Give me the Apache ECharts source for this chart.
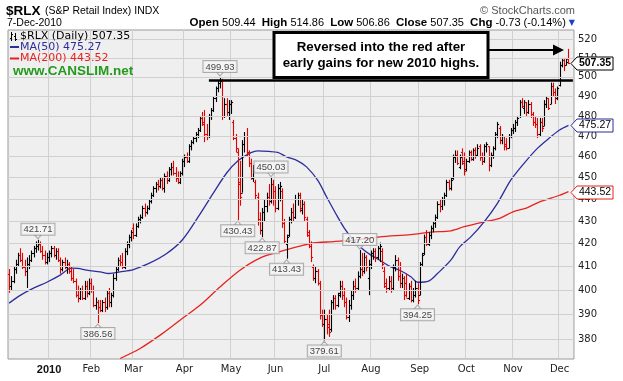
<!DOCTYPE html>
<html><head><meta charset="utf-8">
<script src="https://cdn.jsdelivr.net/npm/echarts@6/dist/echarts.min.js"></script>
<style>html,body{margin:0;padding:0;background:#fff}#c{width:623px;height:381px}</style>
</head><body><div id="c"></div>
<script>
// ---------- data ----------
const startDate = '2009-12-07';
const endDate = '2010-12-07';
const holidays = ['2009-12-25','2010-01-01','2010-01-18','2010-02-15','2010-04-02','2010-05-31','2010-07-05','2010-09-06','2010-11-25'];
const monthLabels = ['2010','Feb','Mar','Apr','May','Jun','Jul','Aug','Sep','Oct','Nov','Dec'];

const opens = [407,402,404,409,411,415,413,410,408,411,413,416,418,419,420,417,415,412,
414,416,418,415,417,413,409,412,410,411,408,405,404,398,397,400,397,402,399,
403,400,394,395,393,392,395,393,399,395,398,405,409,413,412,410,417,420,423,
427,424,428,431,432,436,434,436,439,442,445,447,446,449,445,451,449,454,455,452,450,448,452,
458,460,458,465,467,469,471,473,479,477,471,470,480,483,489,494,497,498,480,486,482,
486,477,469,462,447,443,466,470,462,457,450,448,441,430,426,434,437,441,439,447,
444,436,445,444,429,420,424,431,434,432,440,442,435,438,431,424,419,410,405,408,403,390,
386,388,386,384,395,397,394,399,402,398,395,389,394,398,402,401,406,409,408,414,405,
411,416,417,414,418,417,408,402,401,404,401,410,413,406,403,405,403,397,402,396,398,401,
398,411,416,423,420,424,427,429,432,438,437,440,442,448,445,450,460,461,455,462,458,
454,458,462,459,463,461,465,460,458,465,465,456,461,464,471,474,468,470,466,464,470,
473,474,477,480,487,484,487,482,486,481,477,476,471,477,475,486,489,486,495,492,489,
496,506,509,506.5,509.44];
const highs = [409,406,410,413,416,418,416,413,414,415,417,419,421,421.71,421,419,417,416,
417,419,419,418,418,414,413,414,413,412,410,409,405,402,401,402,404,404,405,
405,402,397,396,396,396,397,400,401,399,407,410,414,415,416,418,421,424,426,
429,429,432,433,437,438,437,440,443,446,448,449,450,450,452,453,455,457,458,455,453,453,459,
461,462,466,468,470,472,474,480,482,483,476,481,484,490,495,498,499.93,499,489,489,488,
488,478,471,464,458,468,472,474,463,459,456,449,443,434,436,440,443,447,450.03,449,
446,447,448,445,431,424,432,436,438,442,443,443,440,439,432,426,421,411,410,409,404,392,
392,390,392,396,398,398,399,404,404,401,397,396,400,404,405,408,417.2,416,416,415,413,
417,418,418,419,420.5,418,410,405,406,406,411,415,414,412,407,406,407,403,404,401,404,403,
412,416,424,426,425,428,430,433,439,440,441,443,449,449,450,461,463,463,461,464,462,
459,463,463,464,464.5,466,466,462,466,467,465,462,465,472,477,475,471,470,469,471,474,
476,478,480,488,489,488,487,488,487,482,480,479,479,479,488,490,489,497,497,494,495,
508,510,510,510,514.86];
const lows = [399,400,403,407,410,412,409,406,401,409,412,414,416,417,416,413,411,411,
412,414,414,413,412,407,408,409,407,407,404,403,397,395,396,396,396,397,398,
399,393,392,386.56,391,391,391,392,393,393,397,404,408,410,409,409,415,418,421,
422,423,427,429,431,432,433,435,438,441,443,444,445,444,443,447,448,451,451,448,447,447,451,
455,457,457,463,466,467,469,472,475,467,468,469,478,482,487,492,494,478,479,480,478,
481,468,462,430.43,437,443,462,460,455,449,448,440,428,424,422.87,430,434,437,438,437,
434,435,439,427,420,413.43,423,429,430,431,437,434,433,430,423,418,412,404,403,402,388,385,
379.61,382,381,383,392,392,393,397,396,393,388,387,392,396,399,400,405,406,407,408,398,
409,413,412,413,412,409,401,399,400,399,400,408,404,401,401,396,397,396,395,395,397,394.25,
398,410,415,419,419,422,425,427,431,434,435,437,441,444,444,449,457,456,454,456,451,
453,457,458,458,459,460,458,456,457,462,453,455,459,463,469,466,466,463,463,464,469,
471,472,475,479,484,481,480,481,479,475,474,469,470,472,475,484,483,486,490,486,488,
495,505,503,506,506.86];
const closes = [402,404,409,411,415,413,410,408,411,413,416,418,419,420,417,415,412,414,
416,418,415,417,413,409,412,410,411,408,405,404,398,397,400,397,402,399,403,
400,394,395,393,392,395,393,399,395,398,405,409,413,412,410,417,420,423,425,
424,428,431,432,436,434,436,439,442,445,447,446,449,445,451,449,454,455,452,450,448,452,458,
460,458,465,467,469,471,473,479,476,471,470,480,483,489,494,497,498,480,486,482,486,
487,469,464,448,441,466,470,462,457,450,453,442,431,426,434,437,441,439,447,440,
436,445,446,429,421,423,431,434,432,440,442,436,438,432,425,419,414,405,408,403,390,386,
388,385,383,395,397,394,398,402,398,395,389,394,398,402,401,406,409,408,414,410,411,
416,417,414,418,419,411,403,401,404,400,410,413,406,403,405,398,397,402,396,398,401,396,
411,415,423,420,424,427,429,432,438,437,440,442,448,445,449,460,461,457,460,457,453,
458,462,459,463,461,464,460,458,465,466,456,461,464,471,476,468,470,465,464,470,473,
474,477,479,487,485,487,482,486,481,477,476,471,477,474,486,489,484,495,492,489,494,
506,509,506.5,508.08,507.35];

const ma50Idx = [0,5,11,17,23,28,31,35,41,45,50,56,63,71,78,86,92,98,103,109,112,117,121,125,130,134,139,143,148,151,154,159,163,167,172,176,181,184,189,193,199,203,208,214,220,226,232,238,244,248,252];
const ma50Val = [394.7,397.9,400.9,403.4,406.4,409.4,409.3,408.5,407.8,407.1,407.8,408.8,411.4,415.7,421.6,433.2,442.8,452.2,457.9,461.9,462.8,462.5,462.0,459.9,458.0,455.1,448.8,441.1,431.9,426.9,423.0,417.9,415.0,412.8,409.9,408.5,405.7,403.4,403.9,407.1,412.8,418.6,423.0,429.7,438.1,448.8,456.8,464.0,469.6,473.0,475.27];
const ma200Idx = [50,59,69,78,86,95,104,113,122,131,137,146,158,167,181,190,199,205,213,221,227,233,239,248,252];
const ma200Val = [372.5,376.4,382.3,388.4,393.8,401.4,408.5,413.7,416.5,418.9,420.3,420.9,421.8,423.0,424.0,425.1,425.7,427.5,429.5,431.3,434.2,435.9,438.8,441.8,443.52];

const priceTicks = [380,390,400,410,420,430,440,450,460,470,480,490,500,510,520];
const pivots = [[13,'H'],[40,'L'],[95,'H'],[103,'L'],[114,'L'],[118,'H'],[125,'L'],[142,'L'],[158,'H'],[184,'L']];
const resistanceLevel = 498;
const lastClose = 507.35, lastMA50 = 475.27, lastMA200 = 443.52;

// ---------- categories (trading days) ----------
const cats = [];
{
  const d = new Date(startDate + 'T12:00:00Z');
  const end = new Date(endDate + 'T12:00:00Z');
  while (d <= end) {
    const wd = d.getUTCDay();
    const s = d.toISOString().slice(0, 10);
    if (wd !== 0 && wd !== 6 && holidays.indexOf(s) < 0) cats.push(s);
    d.setUTCDate(d.getUTCDate() + 1);
  }
  cats.push('', '');
}
const isMonthStart = cats.map((c, i) => i > 0 && c !== '' && cats[i - 1] !== '' && c.slice(5, 7) !== cats[i - 1].slice(5, 7));
function monthLabel(c) {
  const m = +c.slice(5, 7);
  return m === 1 ? '{b|' + monthLabels[0] + '}' : monthLabels[m - 1];
}

const ohlc = closes.map((c, i) => [i, opens[i], highs[i], lows[i], c, i > 0 ? closes[i - 1] : opens[i]]);

const FONT = 'DejaVu Sans';
const chart = echarts.init(document.getElementById('c'), null, { renderer: 'canvas' });
const pivotData = pivots.map(([idx, t]) => ({ idx, t, v: t === 'H' ? highs[idx] : lows[idx] }));
const option = {
  animation: false,
  backgroundColor: '#ffffff',
  textStyle: { fontFamily: FONT },
  grid: { left: 8, right: 49, top: 30, bottom: 22, show: true, backgroundColor: '#efefef', borderColor: '#9a9a9a', borderWidth: 1 },
  xAxis: {
    type: 'category', data: cats, boundaryGap: true,
    axisLine: { show: false }, axisTick: { show: false },
    axisLabel: {
      interval: (i) => isMonthStart[i], formatter: (v) => monthLabel(v),
      fontSize: 10, color: '#222', margin: 5, fontFamily: FONT,
      rich: { b: { fontWeight: 'bold', fontSize: 11, color: '#111', fontFamily: 'Liberation Sans' } }
    },
    splitLine: { show: true, interval: (i) => isMonthStart[i], lineStyle: { color: '#d0d0d0', width: 1 } }
  },
  yAxis: {
    type: 'log', logBase: 10, min: 372.3, max: 525.1, position: 'right',
    axisLine: { show: false }, axisTick: { show: false }, axisLabel: { show: false }, splitLine: { show: false }
  },
  series: [
    {
      type: 'line', data: [], silent: true, z: 1,
      markLine: {
        silent: true, symbol: ['none', 'none'], animation: false,
        lineStyle: { color: '#d0d0d0', width: 1, type: 'solid' },
        label: { show: true, position: 'end', distance: 4, formatter: (p) => String(p.value), color: '#222', fontSize: 10, fontFamily: FONT },
        data: priceTicks.map(v => ({ yAxis: v }))
      }
    },
    {
      name: 'MA200', type: 'line', data: ma200Idx.map((x, k) => [x, ma200Val[k]]),
      showSymbol: false, smooth: 0.3, z: 2, lineStyle: { color: '#e8231f', width: 1.3 }
    },
    {
      name: 'MA50', type: 'line', data: ma50Idx.map((x, k) => [x, ma50Val[k]]),
      showSymbol: false, smooth: 0.3, z: 2, lineStyle: { color: '#2d2d9c', width: 1.3 }
    },
    {
      name: 'RLX', type: 'custom', data: ohlc, z: 3,
      encode: { x: 0, y: [1, 2, 3, 4] },
      renderItem: (params, api) => {
        const i = api.value(0);
        const o = api.value(1), h = api.value(2), l = api.value(3), c = api.value(4), p = api.value(5);
        const ph = api.coord([i, h]), pl = api.coord([i, l]), po = api.coord([i, o]), pc = api.coord([i, c]);
        const x = Math.round(ph[0]) + 0.5;
        const col = c >= p ? '#000000' : '#e60000';
        const st = { stroke: col, lineWidth: 1.1 };
        const yo = Math.round(po[1]) + 0.5, yc = Math.round(pc[1]) + 0.5;
        return { type: 'group', children: [
          { type: 'line', shape: { x1: x, y1: ph[1], x2: x, y2: pl[1] }, style: st },
          { type: 'line', shape: { x1: x - 1.6, y1: yo, x2: x, y2: yo }, style: st },
          { type: 'line', shape: { x1: x, y1: yc, x2: x + 1.6, y2: yc }, style: st }
        ] };
      },
      markLine: {
        silent: true, symbol: ['none', 'none'], animation: false, label: { show: false },
        lineStyle: { color: '#000', width: 2.5, type: 'solid' },
        data: [[{ coord: [90, resistanceLevel] }, { coord: [254, resistanceLevel] }]]
      }
    },
    {
      name: 'pivotPointers', type: 'scatter', z: 4, silent: true, symbol: 'triangle', symbolSize: [7, 4],
      itemStyle: { color: '#f6f6f6', borderColor: '#9a9a9a', borderWidth: 1 },
      data: pivotData.map(p => ({
        value: [p.idx, p.v], symbolRotate: p.t === 'H' ? 180 : 0, symbolOffset: [0, p.t === 'H' ? -3 : 3]
      }))
    },
    {
      name: 'pivots', type: 'scatter', z: 5, symbol: 'rect', symbolSize: 0.1, silent: true,
      itemStyle: { color: 'rgba(0,0,0,0)' },
      data: pivotData.map(p => ({
        value: [p.idx, p.v],
        label: {
          show: true, position: p.t === 'H' ? 'top' : 'bottom', distance: 5,
          formatter: p.v.toFixed(2), backgroundColor: '#f6f6f6', borderColor: '#9a9a9a', borderWidth: 1,
          padding: [1, 2, 0, 2], fontSize: 9.5, color: '#111', fontFamily: 'Liberation Sans'
        }
      }))
    }
  ]
};
chart.setOption(option);

// ---------- annotations ----------
const yOf = v => chart.convertToPixel({ yAxisIndex: 0 }, v);
function tag(v, stroke, bold, txt) {
  const y = Math.round(yOf(v)) + 0.5;
  return [
    { type: 'polygon', z: 20, shape: { points: [[571, y], [577, y - 6.5], [613, y - 6.5], [613, y + 6.5], [577, y + 6.5]] },
      style: { fill: '#fff', stroke: stroke, lineWidth: 1 } },
    { type: 'text', z: 21, style: { text: txt, x: 595, y: y, align: 'center', verticalAlign: 'middle',
      font: (bold ? 'bold ' : '') + '10.5px "Liberation Sans"', fill: '#000' } }
  ];
}
const g = [];
g.push({ type: 'text', z: 30, style: { text: '$RLX', x: 6, y: 11, verticalAlign: 'middle', font: 'bold 13.5px "Liberation Sans"', fill: '#000' } });
g.push({ type: 'text', z: 30, style: { text: '(S&P Retail Index) INDX', x: 45, y: 11, verticalAlign: 'middle', font: '10.5px "Liberation Sans"', fill: '#000' } });
g.push({ type: 'text', z: 30, style: { text: '7-Dec-2010', x: 7, y: 23, verticalAlign: 'middle', font: '10.5px "Liberation Sans"', fill: '#000' } });
g.push({ type: 'text', z: 30, style: { text: '© StockCharts.com', x: 575, y: 11, align: 'right', verticalAlign: 'middle', font: '11px "Liberation Sans"', fill: '#555' } });
g.push({ type: 'text', z: 30, style: {
  text: '{b|Open} 509.44  {b|High} 514.86  {b|Low} 506.86  {b|Close} 507.35  {b|Chg} -0.73 (-0.14%) {t|▼}',
  x: 575, y: 23, align: 'right', verticalAlign: 'middle', font: '11px "Liberation Sans"', fill: '#000',
  rich: { b: { fontWeight: 'bold', fontSize: 11.5, fontFamily: 'Liberation Sans', fill: '#000' }, t: { fill: '#1a3fd0', fontSize: 8, fontFamily: FONT } }
} });
// legend in plot
const L = (x1, y1, x2, y2, c, w) => ({ type: 'line', z: 30, shape: { x1, y1, x2, y2 }, style: { stroke: c, lineWidth: w } });
g.push(L(11.5, 32, 11.5, 41, '#000', 1), L(10, 38.5, 11.5, 38.5, '#000', 1), L(11.5, 34.5, 13, 34.5, '#000', 1));
g.push(L(15.5, 33, 15.5, 41, '#000', 1), L(14, 36.5, 15.5, 36.5, '#000', 1), L(15.5, 39.5, 17, 39.5, '#000', 1));
g.push({ type: 'text', z: 30, style: { text: '$RLX (Daily) 507.35', x: 20, y: 36.5, verticalAlign: 'middle', font: '11px "DejaVu Sans"', fill: '#000' } });
g.push(L(10, 47, 19, 47, '#2d2d9c', 2));
g.push({ type: 'text', z: 30, style: { text: 'MA(50) 475.27', x: 20, y: 47, verticalAlign: 'middle', font: '11px "DejaVu Sans"', fill: '#2d2d9c' } });
g.push(L(10, 58.5, 19, 58.5, '#e8231f', 2));
g.push({ type: 'text', z: 30, style: { text: 'MA(200) 443.52', x: 20, y: 58.5, verticalAlign: 'middle', font: '11px "DejaVu Sans"', fill: '#e8231f' } });
g.push({ type: 'text', z: 30, style: { text: 'www.CANSLIM.net', x: 13, y: 71, verticalAlign: 'middle', font: 'bold 13.5px "Liberation Sans"', fill: '#239a1c' } });
// callout box + arrow
g.push({ type: 'rect', z: 30, shape: { x: 274, y: 32.5, width: 214, height: 45 }, style: { fill: '#fff', stroke: '#000', lineWidth: 3 } });
g.push({ type: 'text', z: 31, style: { text: 'Reversed into the red after', x: 381, y: 47, align: 'center', verticalAlign: 'middle', font: 'bold 13.3px "Liberation Sans"', fill: '#000' } });
g.push({ type: 'text', z: 31, style: { text: 'early gains for new 2010 highs.', x: 381, y: 63, align: 'center', verticalAlign: 'middle', font: 'bold 13.3px "Liberation Sans"', fill: '#000' } });
g.push(L(489, 50, 555, 50, '#000', 2));
g.push({ type: 'polygon', z: 30, shape: { points: [[553, 44.5], [564, 50], [553, 55.5]] }, style: { fill: '#000' } });
// right tags
g.push(...tag(lastMA200, '#e8231f', false, lastMA200.toFixed(2)));
g.push(...tag(lastMA50, '#2d2d9c', false, lastMA50.toFixed(2)));
g.push(...tag(lastClose, '#000', true, lastClose.toFixed(2)));
chart.setOption({ graphic: g });
</script>
</body></html>
